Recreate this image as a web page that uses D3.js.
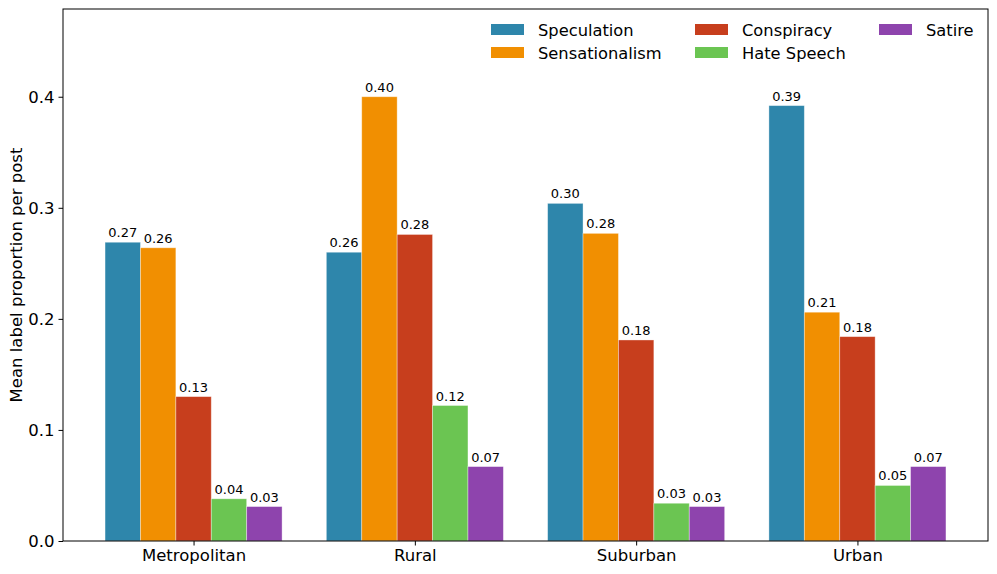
<!DOCTYPE html>
<html>
<head>
<meta charset="utf-8">
<script src="https://cdn.jsdelivr.net/npm/d3@7"></script>
<style>
  body { margin: 0; background: #fff; }
  svg text { font-family: "DejaVu Sans", sans-serif; fill: #000; }
</style>
</head>
<body>
<svg id="chart"></svg>
<script>
// data
const regions = ["Metropolitan", "Rural", "Suburban", "Urban"];
const labels = ["Speculation", "Sensationalism", "Conspiracy", "Hate Speech", "Satire"];
const colors = ["#2E86AB", "#F18F01", "#C73E1D", "#6BC552", "#8E44AD"];
const speculation    = [0.269, 0.260, 0.304, 0.392];
const sensationalism = [0.264, 0.400, 0.277, 0.206];
const conspiracy     = [0.130, 0.276, 0.181, 0.184];
const hateSpeech     = [0.038, 0.122, 0.034, 0.050];
const satire         = [0.031, 0.067, 0.031, 0.067];
const yTicks = [0, 0.1, 0.2, 0.3, 0.4];

const series = [speculation, sensationalism, conspiracy, hateSpeech, satire];

const W = 997, H = 574;
const margin = {top: 9, right: 9, bottom: 33, left: 63};
const width = W - margin.left - margin.right;
const height = H - margin.top - margin.bottom;

const svg = d3.select("#chart").attr("width", W).attr("height", H);
const chart = svg.append("g").attr("transform", `translate(${margin.left},${margin.top})`);

// groups sit at 0..3, each bar 0.16 wide
const barW = 0.16;
const x = d3.scaleLinear().domain([-0.59, regions.length - 1 + 0.59]).range([0, width]);
const y = d3.scaleLinear().domain([0, 0.479]).range([height, 0]);

const bars = [];
series.forEach((vals, si) => {
  vals.forEach((v, gi) => {
    bars.push({si, gi, v, xs: gi + (si - 2) * barW});
  });
});

chart.selectAll(".bar")
  .data(bars)
  .join("rect")
    .attr("class", "bar")
    .attr("x", d => x(d.xs - barW / 2))
    .attr("width", d => x(d.xs + barW / 2) - x(d.xs - barW / 2))
    .attr("y", d => y(d.v))
    .attr("height", d => y(0) - y(d.v))
    .attr("fill", d => colors[d.si])
    .attr("stroke", "#fff")
    .attr("stroke-opacity", 0.45)
    .attr("stroke-width", 0.8);

chart.selectAll(".val")
  .data(bars)
  .join("text")
    .attr("class", "val")
    .attr("x", d => x(d.xs))
    .attr("y", d => y(d.v) - 5)
    .attr("text-anchor", "middle")
    .attr("font-size", 13)
    .text(d => d3.format(".2f")(d.v));

// axes
const xAxis = d3.axisBottom(x).tickValues(d3.range(regions.length))
  .tickFormat(i => regions[i]).tickSize(4.5).tickPadding(4);
const yAxis = d3.axisLeft(y).tickValues(yTicks)
  .tickFormat(d3.format(".1f")).tickSize(4.5).tickPadding(4);

const xAxisG = chart.append("g").attr("transform", `translate(0,${height})`).call(xAxis);
const yAxisG = chart.append("g").call(yAxis);
[xAxisG, yAxisG].forEach(g => {
  g.select(".domain").remove();
  g.selectAll("text").attr("font-size", 16.5);
  g.selectAll("line").attr("stroke", "#000").attr("stroke-width", 1);
});

// frame
chart.append("rect")
  .attr("width", width).attr("height", height)
  .attr("fill", "none").attr("stroke", "#000").attr("stroke-width", 1);

// y label
svg.append("text")
  .attr("transform", `translate(22,${margin.top + height / 2}) rotate(-90)`)
  .attr("text-anchor", "middle")
  .attr("font-size", 16.5)
  .text("Mean label proportion per post");

// legend, 3 columns filled column-wise
const colX = [491, 695, 879];
const legend = svg.append("g");
labels.forEach((lab, i) => {
  const col = Math.floor(i / 2), row = i % 2;
  const g = legend.append("g").attr("transform", `translate(${colX[col]},${24 + row * 23})`);
  g.append("rect").attr("width", 33).attr("height", 11).attr("fill", colors[i]);
  g.append("text").attr("x", 47).attr("y", 11.5).attr("font-size", 16.3).text(lab);
});
</script>
</body>
</html>
